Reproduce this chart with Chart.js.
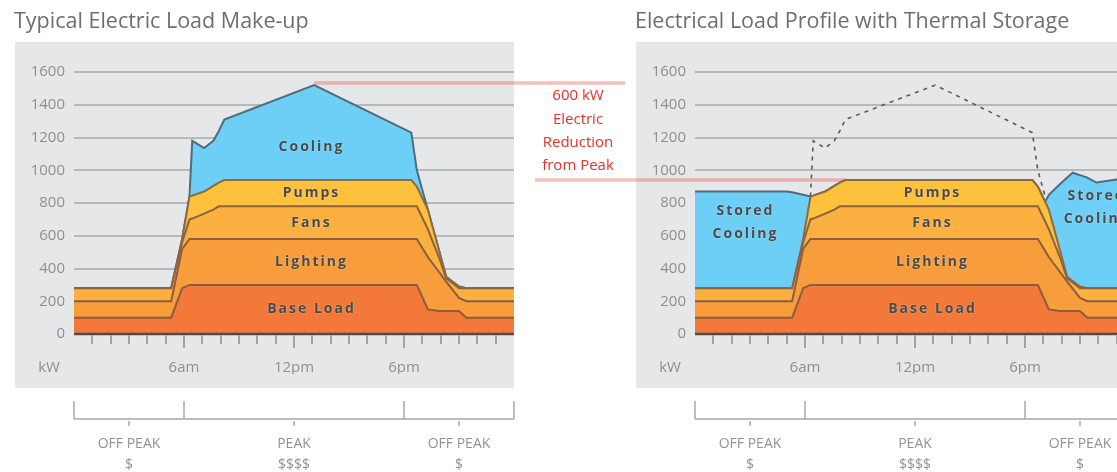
<!DOCTYPE html>
<html>
<head>
<meta charset="utf-8">
<title>Electric Load Profiles</title>
<script src="https://cdn.jsdelivr.net/npm/chart.js@4.4.1/dist/chart.umd.min.js"></script>
<style>
  html, body { margin: 0; padding: 0; background: #ffffff; }
  body { width: 1117px; height: 472px; overflow: hidden; position: relative; }
  canvas { position: absolute; top: 0; }
  #typical { left: 0; }
  #storage { left: 630px; }
</style>
</head>
<body>
<canvas id="typical" width="630" height="472"></canvas>
<canvas id="storage" width="520" height="472"></canvas>
<script>
// Hour of day for each sample of the load profile
const hours          = [0, 5.0, 5.3, 5.9, 6.3, 6.45, 7.1, 7.6, 7.9, 8.2, 13.1, 18.4, 18.7, 19.1, 19.3, 19.9, 20.3, 20.6, 21.0, 21.4, 21.9, 23.0, 24];
// kW drawn by each load type (stacked)
const baseLoad       = [100, 100, 100, 280, 300, 300, 300, 300, 300, 300, 300, 300, 300, 200, 150, 140, 140, 140, 140, 100, 100, 100, 100];
const lighting       = [100, 100, 100, 240, 280, 280, 280, 280, 280, 280, 280, 280, 280, 307, 320, 240, 180, 137,  80, 100, 100, 100, 100];
const fans           = [ 80,  80,  80,  40, 120, 125, 155, 180, 200, 200, 200, 200, 200, 180, 170,  90,  20,  37,  60,  80,  80,  80,  80];
const pumps          = [  0,   0,   0,  20, 140, 140, 135, 145, 145, 160, 160, 160, 120, 120, 120,  45,  10,  10,  10,   0,   0,   0,   0];
// chiller load during the day (conventional) vs. ice made off-peak (thermal storage)
const coolingTypical = [  0,   0,   0,   0,   0, 335, 265, 275, 315, 370, 580, 290, 100,  33,   0,   0,   0,   0,   0,   0,   0,   0,   0];
const coolingStored  = [590, 590, 585, 270,   0,   0,   0,   0,   0,   0,   0,   0,   0,   0,  90, 400, 605, 661, 680, 675, 645, 664, 660];

const layerNames  = ['Base Load', 'Lighting', 'Fans', 'Pumps', 'Cooling'];
const kwTicks     = [0, 200, 400, 600, 800, 1000, 1200, 1400, 1600];
const timeTicks   = [6, 12, 18];
const timeLabels  = ['6am', '12pm', '6pm'];
const periodBounds = [0, 6, 18, 24];
const periodNames  = ['OFF PEAK', 'PEAK', 'OFF PEAK'];
const periodRates  = ['$', '$$$$', '$'];

const FONT = '"Open Sans", "DejaVu Sans", sans-serif';
const layerColors = ['#f27939', '#f79d3b', '#fbb040', '#fdc13b', '#6dcff6'];
const layerEdges  = ['#8c5d3f', '#8c5d3f', '#8c6342', '#8c6a42', '#4d6d7e'];

const stackTotal = cooling => hours.map((h, i) => baseLoad[i] + lighting[i] + fans[i] + pumps[i] + cooling[i]);
const typicalTotal = stackTotal(coolingTypical);
const storageTotal = stackTotal(coolingStored);

// highest stored-profile load inside the PEAK period
const peakIdx = hours.map((h, i) => i).filter(i => hours[i] >= periodBounds[1] && hours[i] <= periodBounds[2]);
const storagePeak = Math.max(...peakIdx.map(i => storageTotal[i]));
const storagePeakHour = hours[peakIdx.find(i => storageTotal[i] === storagePeak)];
const typicalPeak = Math.max(...typicalTotal);
const typicalPeakHour = hours[typicalTotal.indexOf(typicalPeak)];
const reductionKw = Math.round((typicalPeak - storagePeak) / 100) * 100;

function strokeLine(ctx, x1, y1, x2, y2) {
  ctx.beginPath(); ctx.moveTo(x1, y1); ctx.lineTo(x2, y2); ctx.stroke();
}

const panelDecor = {
  id: 'panelDecor',
  beforeDraw(chart, _args, o) {
    const { ctx, chartArea: a } = chart;
    ctx.save();
    ctx.fillStyle = '#e6e7e8';
    ctx.fillRect(a.left - 59, a.top - 30, a.right - a.left + 59, a.bottom - a.top + 84);
    ctx.fillStyle = '#6d6e71';
    ctx.font = '21.5px ' + FONT;
    ctx.textAlign = 'left';
    ctx.textBaseline = 'middle';
    ctx.fillText(o.title, a.left - 60, 22);
    ctx.restore();
  },
  afterDatasetsDraw(chart, _args, o) {
    const { ctx, chartArea: a, scales: { x, y } } = chart;
    ctx.save();
    // zero line
    ctx.strokeStyle = '#4d4d4f';
    ctx.lineWidth = 2.5;
    strokeLine(ctx, a.left, a.bottom, a.right, a.bottom);
    // hourly tick marks, longer at the labelled hours
    ctx.strokeStyle = '#a3a3a3';
    ctx.lineWidth = 2;
    for (let h = 1; h < 24; h++) {
      const px = Math.round(x.getPixelForValue(h));
      const len = timeTicks.includes(h) ? 14 : 10;
      strokeLine(ctx, px, a.bottom + 1, px, a.bottom + len);
    }
    // unit label on the time axis row
    ctx.fillStyle = '#8f8f8f';
    ctx.font = '15px ' + FONT;
    ctx.textAlign = 'center';
    ctx.textBaseline = 'middle';
    ctx.fillText('kW', a.left - 25, a.bottom + 34);

    // layer names
    ctx.font = 'bold 14px ' + FONT;
    ctx.letterSpacing = '2px';
    ctx.fillStyle = '#4a4a4a';
    ctx.shadowColor = 'rgba(255,255,255,0.45)';
    ctx.shadowBlur = 2;
    o.labels.forEach(l => {
      const px = x.getPixelForValue(l.hour) + 1;
      const py = y.getPixelForValue(l.kw);
      const rows = l.text.split('\n');
      rows.forEach((t, j) => ctx.fillText(t, px, py + (j - (rows.length - 1) / 2) * 23));
    });
    ctx.shadowBlur = 0;
    ctx.letterSpacing = '0px';

    // rate periods below the panel
    const yLine = a.bottom + 85;
    ctx.strokeStyle = '#a7a9ac';
    ctx.lineWidth = 1.5;
    strokeLine(ctx, x.getPixelForValue(periodBounds[0]), yLine, x.getPixelForValue(periodBounds[periodBounds.length - 1]), yLine);
    periodBounds.forEach(b => {
      const px = Math.round(x.getPixelForValue(b));
      strokeLine(ctx, px, yLine - 18, px, yLine);
    });
    ctx.fillStyle = '#939393';
    ctx.font = '14px ' + FONT;
    periodNames.forEach((name, k) => {
      const px = Math.round(x.getPixelForValue((periodBounds[k] + periodBounds[k + 1]) / 2));
      strokeLine(ctx, px, yLine + 2, px, yLine + 7);
      ctx.fillText(name, px, yLine + 25);
      ctx.fillText(periodRates[k], px, yLine + 46);
    });
    ctx.restore();
  },
  afterDraw(chart, _args, o) {
    const { ctx, chartArea: a, scales: { x, y } } = chart;
    ctx.save();
    ctx.strokeStyle = 'rgba(232,64,48,0.33)';
    ctx.lineWidth = 3.5;
    const lowY = y.getPixelForValue(storagePeak);
    if (o.reduction === 'from') {
      const pkY = y.getPixelForValue(typicalPeak) - 2;
      strokeLine(ctx, x.getPixelForValue(typicalPeakHour), pkY, a.right + 111, pkY);
      strokeLine(ctx, a.right + 21, lowY, chart.width, lowY);
      ctx.fillStyle = '#e8302c';
      ctx.font = '15px ' + FONT;
      ctx.textAlign = 'center';
      ctx.textBaseline = 'middle';
      const cx = a.right + 64;
      [reductionKw + ' kW', 'Electric', 'Reduction', 'from Peak'].forEach((t, j) => {
        ctx.fillText(t, cx, 96 + j * 23.3);
      });
    } else if (o.reduction === 'to') {
      strokeLine(ctx, 0, lowY, x.getPixelForValue(storagePeakHour), lowY);
    }
    ctx.restore();
  }
};

function layerDatasets(cooling) {
  const layers = [baseLoad, lighting, fans, pumps, cooling];
  return layers.map((vals, k) => ({
    label: layerNames[k],
    data: hours.map((h, i) => ({ x: h, y: vals[i] })),
    backgroundColor: layerColors[k],
    borderColor: layerEdges[k],
    borderWidth: 2,
    fill: k === 0 ? 'origin' : '-1',
    pointRadius: 0,
    tension: 0,
    stack: 'load'
  }));
}

function panelOptions(cfg) {
  const tickFont = { family: FONT, size: 15 };
  return {
    responsive: false,
    animation: false,
    devicePixelRatio: 1,
    layout: { padding: { left: 0, right: cfg.padRight, top: 72, bottom: 98 } },
    plugins: {
      legend: { display: false },
      tooltip: { enabled: false },
      panelDecor: cfg.decor
    },
    scales: {
      x: {
        type: 'linear', min: 0, max: 24,
        grid: { display: false, drawTicks: false },
        border: { display: false },
        afterBuildTicks: s => { s.ticks = timeTicks.map(v => ({ value: v })); },
        afterFit: s => { s.height = 40; },
        ticks: {
          autoSkip: false, maxRotation: 0, padding: 25, color: '#8f8f8f', font: tickFont,
          callback: v => timeLabels[timeTicks.indexOf(v)]
        }
      },
      y: {
        stacked: true, min: 0, max: 1600,
        afterBuildTicks: s => { s.ticks = kwTicks.map(v => ({ value: v })); },
        afterFit: s => { s.width = cfg.axisWidth; },
        grid: { color: '#b7b8ba', lineWidth: 2, drawTicks: false },
        border: { display: false },
        ticks: { padding: 9, color: '#8f8f8f', font: tickFont, callback: v => String(v) }
      }
    }
  };
}

const centreLabels = [
  { text: 'Pumps', hour: 12.9, kw: 860 },
  { text: 'Fans', hour: 12.9, kw: 675 },
  { text: 'Lighting', hour: 12.9, kw: 440 },
  { text: 'Base Load', hour: 12.9, kw: 150 }
];

new Chart(document.getElementById('typical'), {
  type: 'line',
  data: { datasets: layerDatasets(coolingTypical) },
  options: panelOptions({
    padRight: 116, axisWidth: 74,
    decor: {
      title: 'Typical Electric Load Make-up',
      reduction: 'from',
      labels: [{ text: 'Cooling', hour: 12.9, kw: 1140 }, ...centreLabels]
    }
  }),
  plugins: [panelDecor]
});

const storageSets = layerDatasets(coolingStored);
storageSets[4].label = 'Stored Cooling';
storageSets.push({
  label: 'Load without storage',
  data: hours.map((h, i) => ({
    x: h,
    y: (coolingTypical[i] > 0 || coolingTypical[i + 1] > 0) ? typicalTotal[i] : null
  })),
  borderColor: '#5a5a5a',
  borderWidth: 1.6,
  borderDash: [4, 5],
  fill: false,
  pointRadius: 0,
  tension: 0,
  stack: 'typical',
  order: -1
});

new Chart(document.getElementById('storage'), {
  type: 'line',
  data: { datasets: storageSets },
  options: panelOptions({
    padRight: 15, axisWidth: 65,
    decor: {
      title: 'Electrical Load Profile with Thermal Storage',
      reduction: 'to',
      labels: [
        ...centreLabels,
        { text: 'Stored\nCooling', hour: 2.7, kw: 682 },
        { text: 'Stored\nCooling', hour: 21.85, kw: 770 }
      ]
    }
  }),
  plugins: [panelDecor]
});
</script>
</body>
</html>
